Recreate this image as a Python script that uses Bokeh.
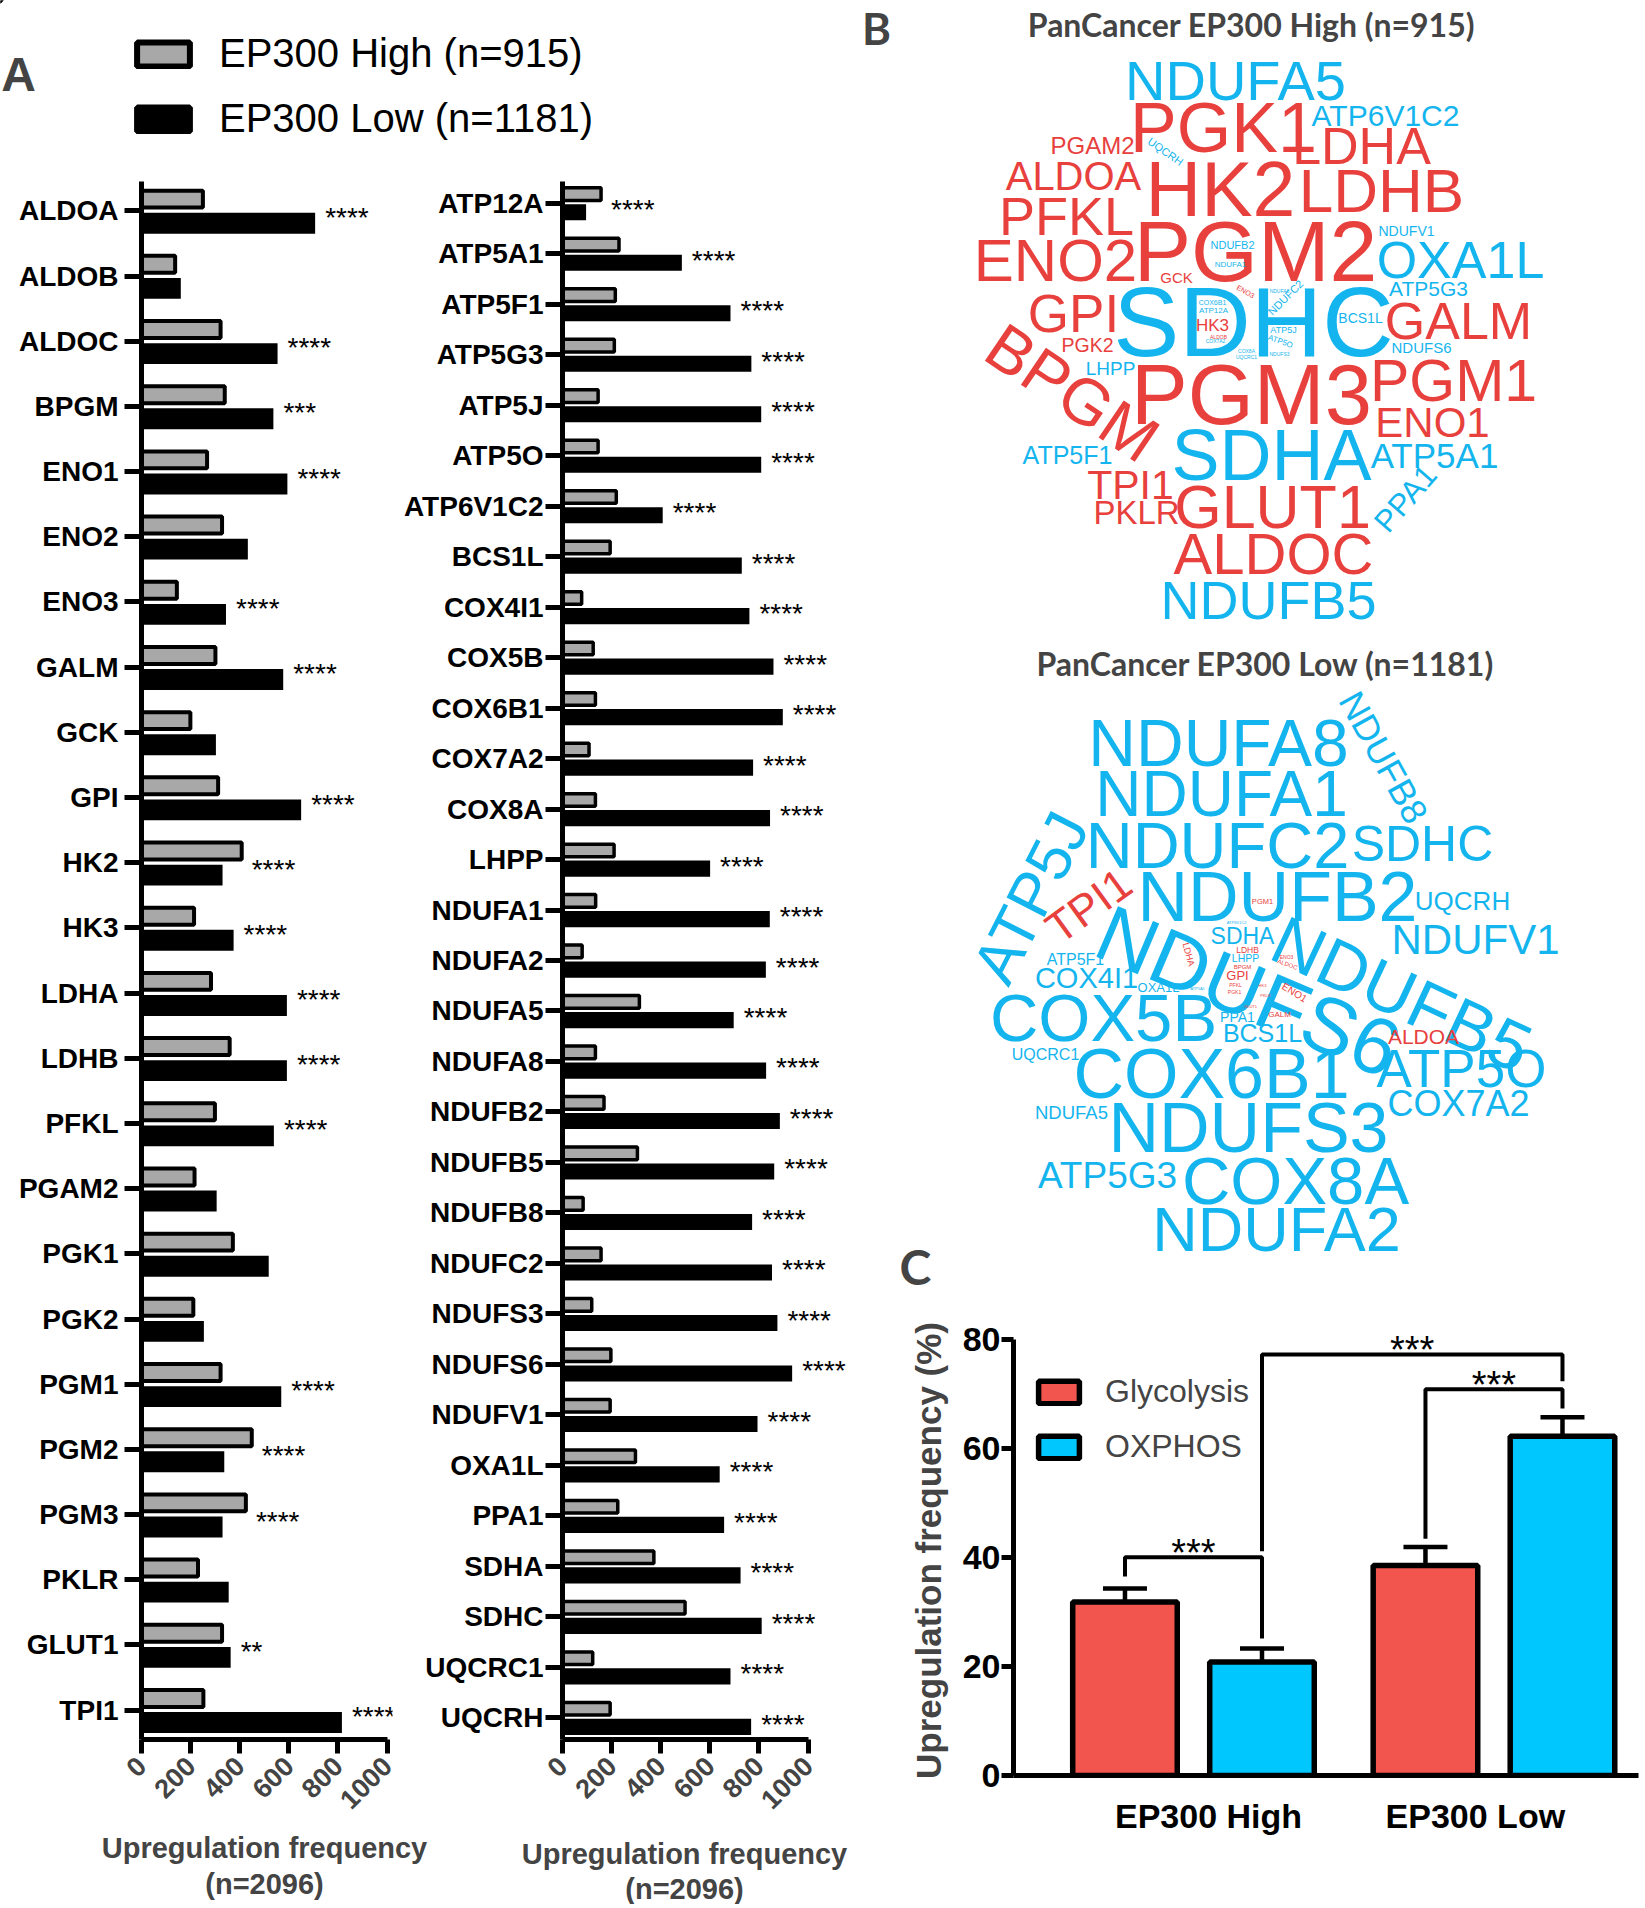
import math
from bokeh.plotting import figure
from bokeh.models import (ColumnDataSource, FactorRange, Range1d, FixedTicker, Legend,
                          LegendItem, LabelSet, Label, Whisker, TeeHead)
from bokeh.layouts import row, column
from bokeh.transform import dodge, factor_cmap
from bokeh.embed import file_html
from bokeh.resources import INLINE
from bokeh.core.properties import value

SANS = "Liberation Sans"
TITLE_FONT = "Lato"
GREY = "#a8a8a8"
CLOUD_PALETTE = ["#e8403d", "#14b5ee"]
C_RED = "#f2544e"
C_BLUE = "#00c8ff"

# ---------------- Panel A data ----------------
GLY_GENES = ["ALDOA", "ALDOB", "ALDOC", "BPGM", "ENO1", "ENO2", "ENO3", "GALM", "GCK", "GPI",
             "HK2", "HK3", "LDHA", "LDHB", "PFKL", "PGAM2", "PGK1", "PGK2", "PGM1", "PGM2",
             "PGM3", "PKLR", "GLUT1", "TPI1"]
GLY_HIGH = [250, 137, 322, 339, 267, 328, 144, 301, 199, 312, 408, 214, 283, 359, 299, 216,
            372, 211, 322, 449, 425, 230, 328, 252]
GLY_LOW = [707, 160, 554, 537, 594, 433, 344, 577, 303, 650, 330, 375, 592, 592, 539, 306,
           518, 254, 569, 337, 330, 355, 363, 816]
GLY_SIG = ["****", "", "****", "***", "****", "", "****", "****", "", "****", "****", "****",
           "****", "****", "****", "", "", "", "****", "****", "****", "", "**", "****"]

OX_GENES = ["ATP12A", "ATP5A1", "ATP5F1", "ATP5G3", "ATP5J", "ATP5O", "ATP6V1C2", "BCS1L",
            "COX4I1", "COX5B", "COX6B1", "COX7A2", "COX8A", "LHPP", "NDUFA1", "NDUFA2",
            "NDUFA5", "NDUFA8", "NDUFB2", "NDUFB5", "NDUFB8", "NDUFC2", "NDUFS3", "NDUFS6",
            "NDUFV1", "OXA1L", "PPA1", "SDHA", "SDHC", "UQCRC1", "UQCRH"]
OX_HIGH = [157, 230, 215, 211, 145, 145, 219, 194, 78, 125, 134, 108, 134, 210, 135, 80,
           313, 134, 169, 305, 84, 157, 119, 197, 194, 297, 225, 372, 499, 123, 194]
OX_LOW = [96, 486, 684, 769, 809, 809, 408, 730, 761, 859, 897, 776, 845, 601, 844, 828,
          697, 829, 885, 862, 772, 853, 875, 935, 794, 640, 658, 725, 811, 684, 768]
OX_SIG = ["****", "****", "****", "****", "****", "****", "****", "****", "****", "****",
          "****", "****", "****", "****", "****", "****", "****", "****", "****", "****",
          "****", "****", "****", "****", "****", "****", "****", "****", "****", "****",
          "****"]
X_TICKS = [0, 200, 400, 600, 800, 1000]
SERIES_LABELS = ["EP300 High (n=915)", "EP300 Low (n=1181)"]
A_XLABEL = ["Upregulation frequency", "(n=2096)"]

# ---------------- Panel B data (word clouds) ----------------
HIGH_WORDS = ["NDUFA5", "PGK1", "ATP6V1C2", "LDHA", "PGAM2", "UQCRH", "ALDOA", "HK2", "LDHB",
              "PFKL", "PGM2", "ENO2", "NDUFV1", "OXA1L", "NDUFB2", "NDUFA1", "GCK", "ATP5G3",
              "SDHC", "GPI", "GALM", "BCS1L", "HK3", "COX6B1", "ATP12A", "ENO3", "NDUFC2",
              "ATP5J", "ATP5O", "NDUFS6", "PGK2", "BPGM", "LHPP", "PGM3", "PGM1", "ENO1",
              "SDHA", "ATP5A1", "ATP5F1", "TPI1", "PPA1", "GLUT1", "PKLR", "ALDOC", "NDUFB5",
              "ALDOB", "COX7A2", "COX8A", "UQCRC1", "NDUFS3", "NDUFA8"]
HIGH_PATH = ["O", "G", "O", "G", "G", "O", "G", "G", "G",
             "G", "G", "G", "O", "O", "O", "O", "G", "O",
             "O", "G", "G", "O", "G", "O", "O", "G", "O",
             "O", "O", "O", "G", "G", "O", "G", "G", "G",
             "O", "O", "O", "G", "O", "G", "G", "G", "O",
             "G", "O", "O", "O", "O", "O"]
HIGH_SIZE = [56, 70, 30, 52, 24, 11, 40, 77, 62,
             54, 86, 60, 14, 52, 11, 8, 15, 21,
             99, 53, 52, 14, 17, 7, 8, 7, 11,
             9, 8, 15, 19.5, 65, 19, 85, 59, 42,
             72, 35, 25, 41, 31, 61, 33, 58, 54,
             5, 5, 5, 5, 5, 5]
# word placement (layout)
HIGH_X = [1235, 1223, 1385, 1361, 1092, 1165, 1073, 1220, 1381,
          1066, 1255, 1055, 1406, 1460, 1232, 1230, 1176, 1428,
          1253, 1073, 1458, 1360, 1212, 1212, 1213, 1245, 1285,
          1283, 1280, 1421, 1087, 1072, 1110, 1251, 1453, 1432,
          1271, 1434, 1067, 1130, 1405, 1272, 1136, 1273, 1268,
          1218, 1215, 1246, 1246, 1279, 1279]
HIGH_Y = [80, 127, 115, 145, 145, 151, 175, 188, 190,
          215, 250, 260, 230, 259, 244, 264, 277, 288,
          321, 313, 320, 317, 325, 302, 310, 291, 297,
          329, 341, 347, 344, 392, 368, 394, 380, 422,
          454, 455, 454, 484, 498, 506, 512, 553, 599,
          336, 340, 350, 356, 353, 290]
HIGH_ANGLE = [0, 0, 0, 0, 0, -35, 0, 0, 0,
              0, 0, 0, 0, 0, 0, 0, 0, 0,
              0, 0, 0, 0, 0, 0, 0, -30, 45,
              0, -20, 0, 0, -34, 0, 0, 0, 0,
              0, 0, 0, 0, 49, 0, 0, 0, 0,
              0, 0, 0, 0, 0, 0]

LOW_WORDS = ["NDUFA8", "NDUFB8", "NDUFA1", "ATP5J", "NDUFC2", "SDHC", "TPI1", "NDUFB2", "UQCRH",
             "NDUFS6", "NDUFV1", "NDUFB5", "SDHA", "ATP5F1", "COX4I1", "OXA1L", "LHPP", "LDHB",
             "LDHA", "GPI", "BPGM", "PFKL", "PGK1", "ENO1", "ALDOC", "ENO3", "PGM1", "PPA1",
             "GALM", "BCS1L", "COX5B", "ALDOA", "UQCRC1", "COX6B1", "ATP5O", "COX7A2", "NDUFA5",
             "NDUFS3", "ATP5G3", "COX8A", "NDUFA2", "ATP6V1C2", "ATP5A1", "GLUT1", "HK3", "PKLR"]
LOW_PATH = ["O", "O", "O", "O", "O", "O", "G", "O", "O",
            "O", "O", "O", "O", "O", "O", "O", "O", "G",
            "G", "G", "G", "G", "G", "G", "G", "G", "G", "O",
            "G", "O", "O", "G", "O", "O", "O", "O", "O",
            "O", "O", "O", "O", "O", "O", "G", "G", "G"]
LOW_SIZE = [66, 36, 64, 62, 65, 50, 44, 70, 26,
            80, 42, 69, 23, 16, 29, 13, 10.5, 8.5,
            9, 13, 6, 5, 5, 10, 6, 5, 7.5, 14,
            8, 25, 67, 21, 16, 70, 53, 36, 18.5,
            70, 37, 67, 63, 4, 4, 4, 4, 4]
LOW_X = [1218, 1383, 1221, 1030, 1217, 1422, 1088, 1277, 1462,
         1248, 1475, 1401, 1242, 1075, 1086, 1158, 1245, 1247,
         1188, 1237, 1242, 1235, 1234, 1294, 1287, 1286, 1262, 1237,
         1279, 1262, 1103, 1423, 1045, 1211, 1461, 1458, 1071,
         1248, 1107, 1295, 1276, 1236, 1197, 1250, 1262, 1265]
LOW_Y = [742, 757, 793, 897, 845, 843, 905, 896, 900,
         991, 939, 994, 935, 959, 977, 987, 957, 949,
         954, 975, 966, 984, 991, 992, 964, 956, 901, 1016,
         1014, 1032, 1017, 1036, 1054, 1073, 1068, 1103, 1112,
         1127, 1175, 1180, 1228, 922, 988, 1006, 985, 995]
LOW_ANGLE = [0, -61, 0, 63, 0, 0, 36, 0, 0,
             -23, 0, -25, 0, 0, 0, 0, 0, 0,
             -75, 0, 0, 0, 0, -32, -20, 0, 0, 0,
             0, 0, 0, 0, 0, 0, 0, 0, 0,
             0, 0, 0, 0, 0, 0, 0, 0, 0]
CLOUD_TITLES = ["PanCancer EP300 High (n=915)", "PanCancer EP300 Low (n=1181)"]

# ---------------- Panel C data ----------------
GROUPS = ["EP300 High", "EP300 Low"]
GLYCOLYSIS_PCT = [31.8, 38.5]
GLYCOLYSIS_ERR = [2.5, 3.4]
OXPHOS_PCT = [20.8, 62.2]
OXPHOS_ERR = [2.5, 3.5]
C_TICKS = [0, 20, 40, 60, 80]


def style_bare(p):
    p.grid.visible = False
    p.outline_line_color = None
    p.background_fill_color = "white"
    if "frame_align" in p.properties():
        p.frame_align = False


def gene_panel(genes, high, low, sig, pad, frame_w, x_end, left_border, right_border,
               high_h, low_h, high_off, low_off, grey_lw, standoff):
    src = ColumnDataSource(dict(gene=genes, high=high, low=low, sig=sig,
                                peak=[max(h, l) for h, l in zip(high, low)]))
    p = figure(y_range=FactorRange(factors=list(reversed(genes)), range_padding=pad,
                                   range_padding_units="absolute"),
               x_range=Range1d(0, x_end), frame_width=frame_w, frame_height=1558,
               min_border_left=left_border, min_border_right=right_border,
               min_border_top=6, min_border_bottom=86,
               toolbar_location=None, output_backend="svg")
    style_bare(p)
    p.hbar(y=dodge("gene", low_off, range=p.y_range), left=0, right="low", height=low_h,
           fill_color="black", line_color=None, source=src)
    p.hbar(y=dodge("gene", high_off, range=p.y_range), left=0, right="high", height=high_h,
           fill_color=GREY, line_color="black", line_width=grey_lw, source=src)
    stars = LabelSet(x="peak", y="gene", text="sig", x_offset=10, y_offset=-16,
                     text_baseline="alphabetic", text_align="left", source=src,
                     text_font=value(SANS), text_font_size="28px", text_color="black")
    p.add_layout(stars)

    xa = p.xaxis[0]
    xa.bounds = (0, 1000)
    xa.ticker = FixedTicker(ticks=X_TICKS)
    xa.major_label_orientation = math.pi / 4
    xa.axis_line_width = 5
    xa.major_tick_line_width = 5
    xa.major_tick_out = 14
    xa.major_tick_in = 0
    xa.minor_tick_line_color = None
    xa.major_label_text_font = SANS
    xa.major_label_text_font_style = "bold"
    xa.major_label_text_font_size = "27px"
    xa.major_label_standoff = 8

    ya = p.yaxis[0]
    ya.axis_line_width = 5
    ya.major_tick_line_width = 5
    ya.major_tick_out = 17
    ya.major_tick_in = 0
    ya.major_label_standoff = standoff
    ya.major_label_text_font = SANS
    ya.major_label_text_font_style = "bold"
    ya.major_label_text_font_size = "28px"
    ya.major_label_text_color = "black"
    return p


# ---------------- header with panel letter and legend ----------------
hdr = figure(width=855, height=175, x_range=Range1d(0, 855), y_range=Range1d(175, 0),
             x_axis_location=None, y_axis_location=None, toolbar_location=None,
             output_backend="svg", min_border=0)
style_bare(hdr)
# legend swatches (their data lie far outside the visible range; only the legend icons show)
r_hi = hdr.hbar(y=[-5000], left=[-5000], right=[-4999], height=1, fill_color=GREY,
                line_color="black", line_width=6)
r_lo = hdr.hbar(y=[-5000], left=[-5000], right=[-4999], height=1, fill_color="black",
                line_color="black", line_width=6)
leg_a = Legend(items=[LegendItem(label=SERIES_LABELS[0], renderers=[r_hi]),
                      LegendItem(label=SERIES_LABELS[1], renderers=[r_lo])],
               location=(130, 34), glyph_width=66, glyph_height=30, label_standoff=23,
               spacing=20, padding=0, margin=0, border_line_color=None,
               background_fill_alpha=0, label_text_font=SANS, label_text_font_size="40px",
               label_text_color="black")
hdr.add_layout(leg_a)
hdr.add_layout(Label(x=18, y=74, text="A", text_align="center", text_baseline="middle",
                     text_font=SANS, text_font_style="bold", text_font_size="48px"))

left = gene_panel(GLY_GENES, GLY_HIGH, GLY_LOW, GLY_SIG, pad=-0.05, frame_w=251, x_end=1022,
                  left_border=141, right_border=8, high_h=0.26, low_h=0.32,
                  high_off=0.18, low_off=-0.19, grey_lw=4, standoff=6)
mid = gene_panel(OX_GENES, OX_HIGH, OX_LOW, OX_SIG, pad=-0.07, frame_w=288, x_end=1172.6,
                 left_border=162, right_border=5, high_h=0.25, low_h=0.32,
                 high_off=0.18, low_off=-0.18, grey_lw=3.5, standoff=2)

# shared x-axis titles for the two panel-A charts
foot = figure(width=855, height=79, x_range=Range1d(0, 855), y_range=Range1d(1904, 1825),
              x_axis_location=None, y_axis_location=None, toolbar_location=None,
              output_backend="svg", min_border=0)
style_bare(foot)
for cx, y1, y2 in [(264, 1847, 1883), (684, 1853, 1888)]:
    for txt, yy in zip(A_XLABEL, (y1, y2)):
        foot.add_layout(Label(x=cx, y=yy, text=txt, text_align="center", text_baseline="middle",
                              text_font=SANS, text_font_style="bold", text_font_size="29px"))

# ---------------- word clouds ----------------
cloud = figure(width=785, height=1300, x_range=Range1d(855, 1640), y_range=Range1d(1300, 0),
               x_axis_location=None, y_axis_location=None, toolbar_location=None,
               output_backend="svg", min_border=0)
style_bare(cloud)


def add_cloud(words, path, size, xs, ys, angles):
    src = ColumnDataSource(dict(word=words, path=path, fs=["%gpx" % s for s in size],
                                x=xs, y=ys, angle=angles))
    cloud.text(x="x", y="y", text="word", angle="angle", angle_units="deg",
               text_font_size="fs", text_color=factor_cmap("path", CLOUD_PALETTE, ["G", "O"]),
               text_align="center", text_baseline="middle", text_font=value(SANS), source=src)


add_cloud(HIGH_WORDS, HIGH_PATH, HIGH_SIZE, HIGH_X, HIGH_Y, HIGH_ANGLE)
add_cloud(LOW_WORDS, LOW_PATH, LOW_SIZE, LOW_X, LOW_Y, LOW_ANGLE)
for txt, x, y in zip(CLOUD_TITLES, (1251, 1265), (24, 663)):
    cloud.add_layout(Label(x=x, y=y, text=txt, text_align="center", text_baseline="middle",
                           text_font=TITLE_FONT, text_font_style="bold", text_font_size="32px"))
cloud.add_layout(Label(x=876, y=27, text="B", text_align="center", text_baseline="middle",
                       text_font=TITLE_FONT, text_font_style="bold", text_font_size="44px"))
cloud.add_layout(Label(x=915, y=1266, text="C", text_align="center", text_baseline="middle",
                       text_font=TITLE_FONT, text_font_style="bold", text_font_size="48px"))

# ---------------- panel C ----------------
cf = figure(x_range=Range1d(-0.599, 1.481), y_range=Range1d(0, 82.5),
            frame_width=625, frame_height=450, min_border_left=158, min_border_right=2,
            min_border_top=25, min_border_bottom=129, toolbar_location=None,
            output_backend="svg")
style_bare(cf)
DODGE = 0.228
gx = [i - DODGE for i in range(len(GROUPS))]
ox = [i + DODGE for i in range(len(GROUPS))]
src_g = ColumnDataSource(dict(x=gx, val=GLYCOLYSIS_PCT,
                              upper=[v + e for v, e in zip(GLYCOLYSIS_PCT, GLYCOLYSIS_ERR)]))
src_o = ColumnDataSource(dict(x=ox, val=OXPHOS_PCT,
                              upper=[v + e for v, e in zip(OXPHOS_PCT, OXPHOS_ERR)]))
for s in (src_g, src_o):
    cf.add_layout(Whisker(source=s, base="x", upper="upper", lower="val", dimension="height",
                          line_width=4.5, line_color="black",
                          upper_head=TeeHead(size=44, line_width=4.5, line_color="black"),
                          lower_head=None))
rg = cf.vbar(x="x", top="val", bottom=0, width=0.348, fill_color=C_RED, line_color="black",
             line_width=5.5, source=src_g)
ro = cf.vbar(x="x", top="val", bottom=0, width=0.348, fill_color=C_BLUE, line_color="black",
             line_width=5.5, source=src_o)

# significance brackets (annotation geometry)
BRACKETS = [(gx[0], ox[0], 40.0, 36.5, 25.1),
            (ox[0], ox[1], 77.2, 41.1, 72.3),
            (gx[1], ox[1], 70.8, 43.4, 67.3)]
BRACKET_TEXT = ["***", "***", "***"]
cf.multi_line(xs=[[a, a, b, b] for a, b, _, _, _ in BRACKETS],
              ys=[[l1, top, top, l2] for _, _, top, l1, l2 in BRACKETS],
              line_color="black", line_width=4)
star_src = ColumnDataSource(dict(x=[(a + b) / 2 for a, b, _, _, _ in BRACKETS],
                                 y=[t for _, _, t, _, _ in BRACKETS], text=BRACKET_TEXT))
cf.add_layout(LabelSet(x="x", y="y", text="text", source=star_src, text_align="center",
                       text_baseline="alphabetic", y_offset=-9, text_font=value(SANS),
                       text_font_size="38px", text_color="black"))

leg_c = Legend(items=[LegendItem(label="Glycolysis", renderers=[rg]),
                      LegendItem(label="OXPHOS", renderers=[ro])],
               location=(20, 310), glyph_width=51, glyph_height=28, label_standoff=21,
               spacing=18, padding=0, margin=0, border_line_color=None,
               background_fill_alpha=0, label_text_font=SANS, label_text_font_size="32px")
cf.add_layout(leg_c)

cxa = cf.xaxis[0]
LABEL_SHIFT = [0.05, -0.062]
tick_pos = [i + s for i, s in enumerate(LABEL_SHIFT)]
cxa.ticker = FixedTicker(ticks=tick_pos)
cxa.major_label_overrides = {t: g for t, g in zip(tick_pos, GROUPS)}
cxa.axis_line_width = 5
cxa.major_tick_line_color = None
cxa.minor_tick_line_color = None
cxa.major_label_standoff = 15
cxa.major_label_text_font = SANS
cxa.major_label_text_font_style = "bold"
cxa.major_label_text_font_size = "34px"
cxa.major_label_text_color = "black"

cya = cf.yaxis[0]
cya.bounds = (0, 80)
cya.ticker = FixedTicker(ticks=C_TICKS)
cya.axis_line_width = 5
cya.major_tick_line_width = 5
cya.major_tick_out = 12
cya.major_tick_in = 0
cya.minor_tick_line_color = None
cya.major_label_standoff = 1
cya.major_label_text_font = SANS
cya.major_label_text_font_style = "bold"
cya.major_label_text_font_size = "34px"
cya.major_label_text_color = "black"
cya.axis_label = "Upregulation frequency (%)"
cya.axis_label_text_font = SANS
cya.axis_label_text_font_style = "bold"
cya.axis_label_text_font_size = "35px"
cya.axis_label_standoff = 12

layout = row(column(hdr, row(left, mid, spacing=0), foot, spacing=0),
             column(cloud, cf, spacing=0), spacing=0)
open("out.html", "w").write(file_html(layout, INLINE))
